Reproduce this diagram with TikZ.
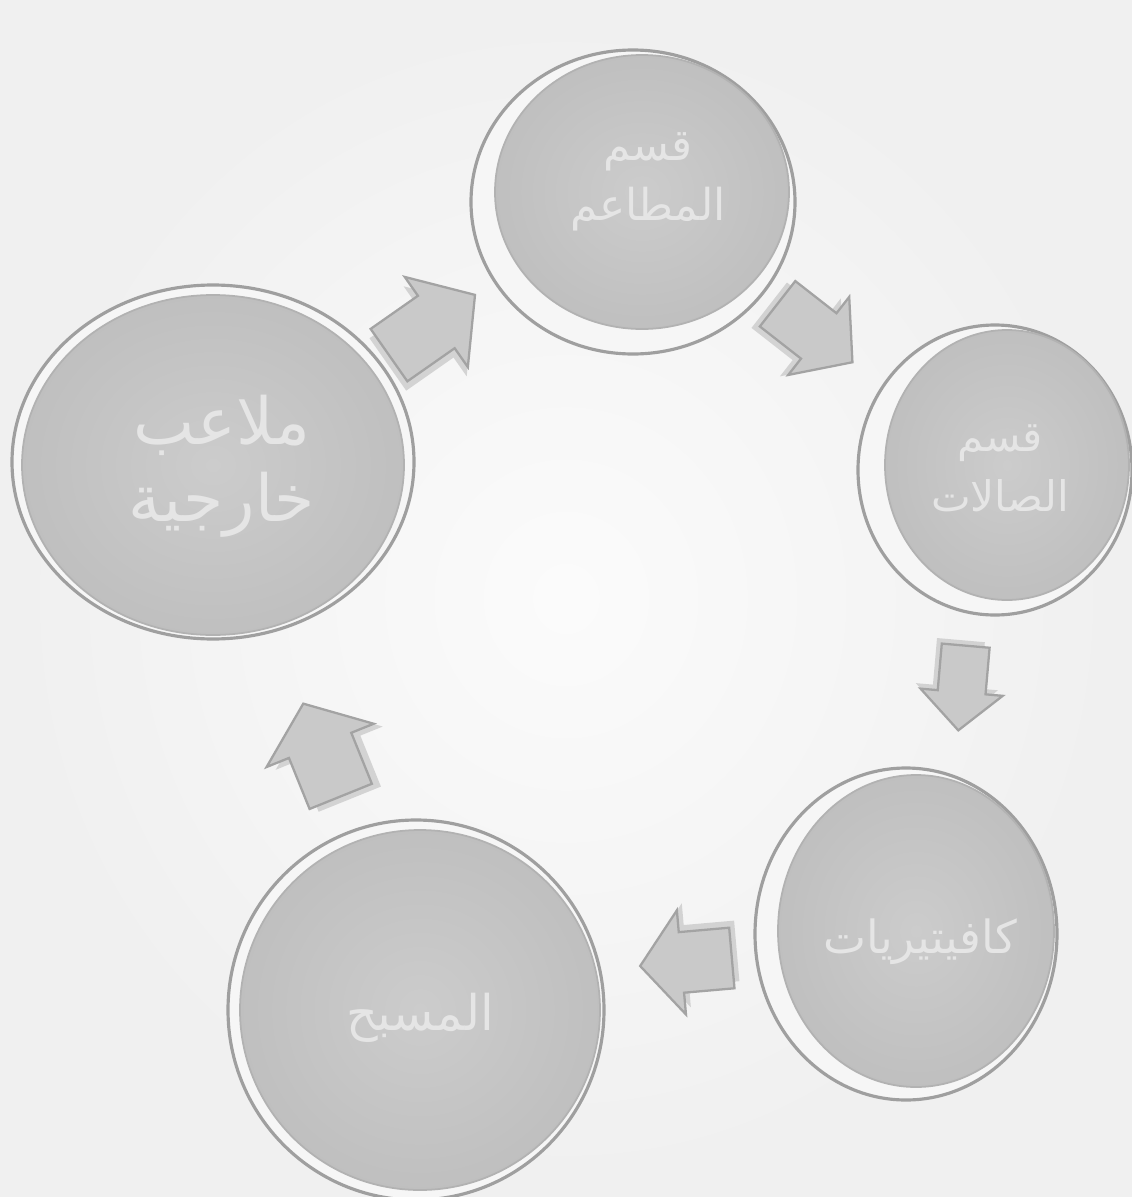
\documentclass[tikz,border=0pt]{standalone}
\usepackage{fontspec}
\newfontfamily\arabicfont[Script=Arabic]{DejaVu Sans}
\TeXXeTstate=1
\begin{document}
\begin{tikzpicture}[x=0.02cm,y=0.02cm,
  rim/.style={fill=gray!7,draw=gray!75,line width=1.8pt},
  face/.style={inner color=gray!40,outer color=gray!50,draw=gray!60,line width=1pt},
  lbl/.style={text=gray!20,align=center,inner sep=0pt},
  arrowbody/.style={fill=gray!42,draw=gray!72,line width=1.3pt,line join=miter},
  arrowshadow/.style={fill=gray!60,opacity=0.5,draw=none}]
\useasboundingbox (0,0) rectangle (1132,-1197);
\shade[inner color=gray!3,outer color=gray!12] (0,0) rectangle (1132,-1197);

% ---- circles ----
% top
\path[rim] (633,-202) ellipse [x radius=162,y radius=152];
\shade[face] (642,-192) ellipse [x radius=147,y radius=137];
\node[lbl,font=\arabicfont\fontsize{25}{34}\selectfont] (t1) at (648,-182) {\beginR قسم\endR\\\beginR المطاعم\endR};
% right
\path[rim] (995,-470) ellipse [x radius=137,y radius=145];
\shade[face] (1007,-465) ellipse [x radius=122,y radius=135];
\node[lbl,font=\arabicfont\fontsize{24}{34}\selectfont] (t2) at (1000,-468) {\beginR قسم\endR\\\beginR الصالات\endR};
% bottom right
\path[rim] (906,-934) ellipse [x radius=151,y radius=166];
\shade[face] (916,-931) ellipse [x radius=138,y radius=156];
\node[lbl,font=\arabicfont\fontsize{26}{34}\selectfont] (t3) at (920,-942) {\beginR كافيتيريات\endR};
% bottom left
\path[rim] (416,-1010) ellipse [x radius=188,y radius=190];
\shade[face] (420,-1010) ellipse [x radius=180,y radius=180];
\node[lbl,font=\arabicfont\fontsize{28}{34}\selectfont] (t4) at (420,-1018) {\beginR المسبح\endR};
% left
\path[rim] (213,-462) ellipse [x radius=201,y radius=177];
\shade[face] (213,-465) ellipse [x radius=191,y radius=170];
\node[lbl,font=\arabicfont\fontsize{37}{44}\selectfont] (t5) at (222,-466) {\beginR ملاعب\endR\\\beginR خارجية\endR};

% ---- block arrows ----
\def\blockarrow#1#2#3#4#5#6{% name, x, y, angle, scale length, scale width
  \coordinate (#1) at (#2,#3);
  \begin{scope}[shift={(#2,#3)},rotate=#4,xscale=#5,yscale=#6]
    \path[arrowshadow] ([shift={(-6,-7)}]0,0) ++(-50,-32) -- ++(55,0) -- ++(0,-23) -- ++(45,55) -- ++(-45,55) -- ++(0,-23) -- ++(-55,0) -- cycle;
    \path[arrowbody] (-50,-32) -- (5,-32) -- (5,-55) -- (50,0) -- (5,55) -- (5,32) -- (-50,32) -- cycle;
  \end{scope}}
\blockarrow{a1}{432}{-325}{35}{1.05}{1.0}
\blockarrow{a2}{815}{-333}{-38}{0.95}{0.9}
\blockarrow{a3}{962}{-688}{-95}{0.85}{0.75}
\blockarrow{a4}{686}{-962}{185}{0.92}{0.95}
\blockarrow{a5}{322}{-750}{112}{1.0}{1.05}
\end{tikzpicture}
\end{document}
